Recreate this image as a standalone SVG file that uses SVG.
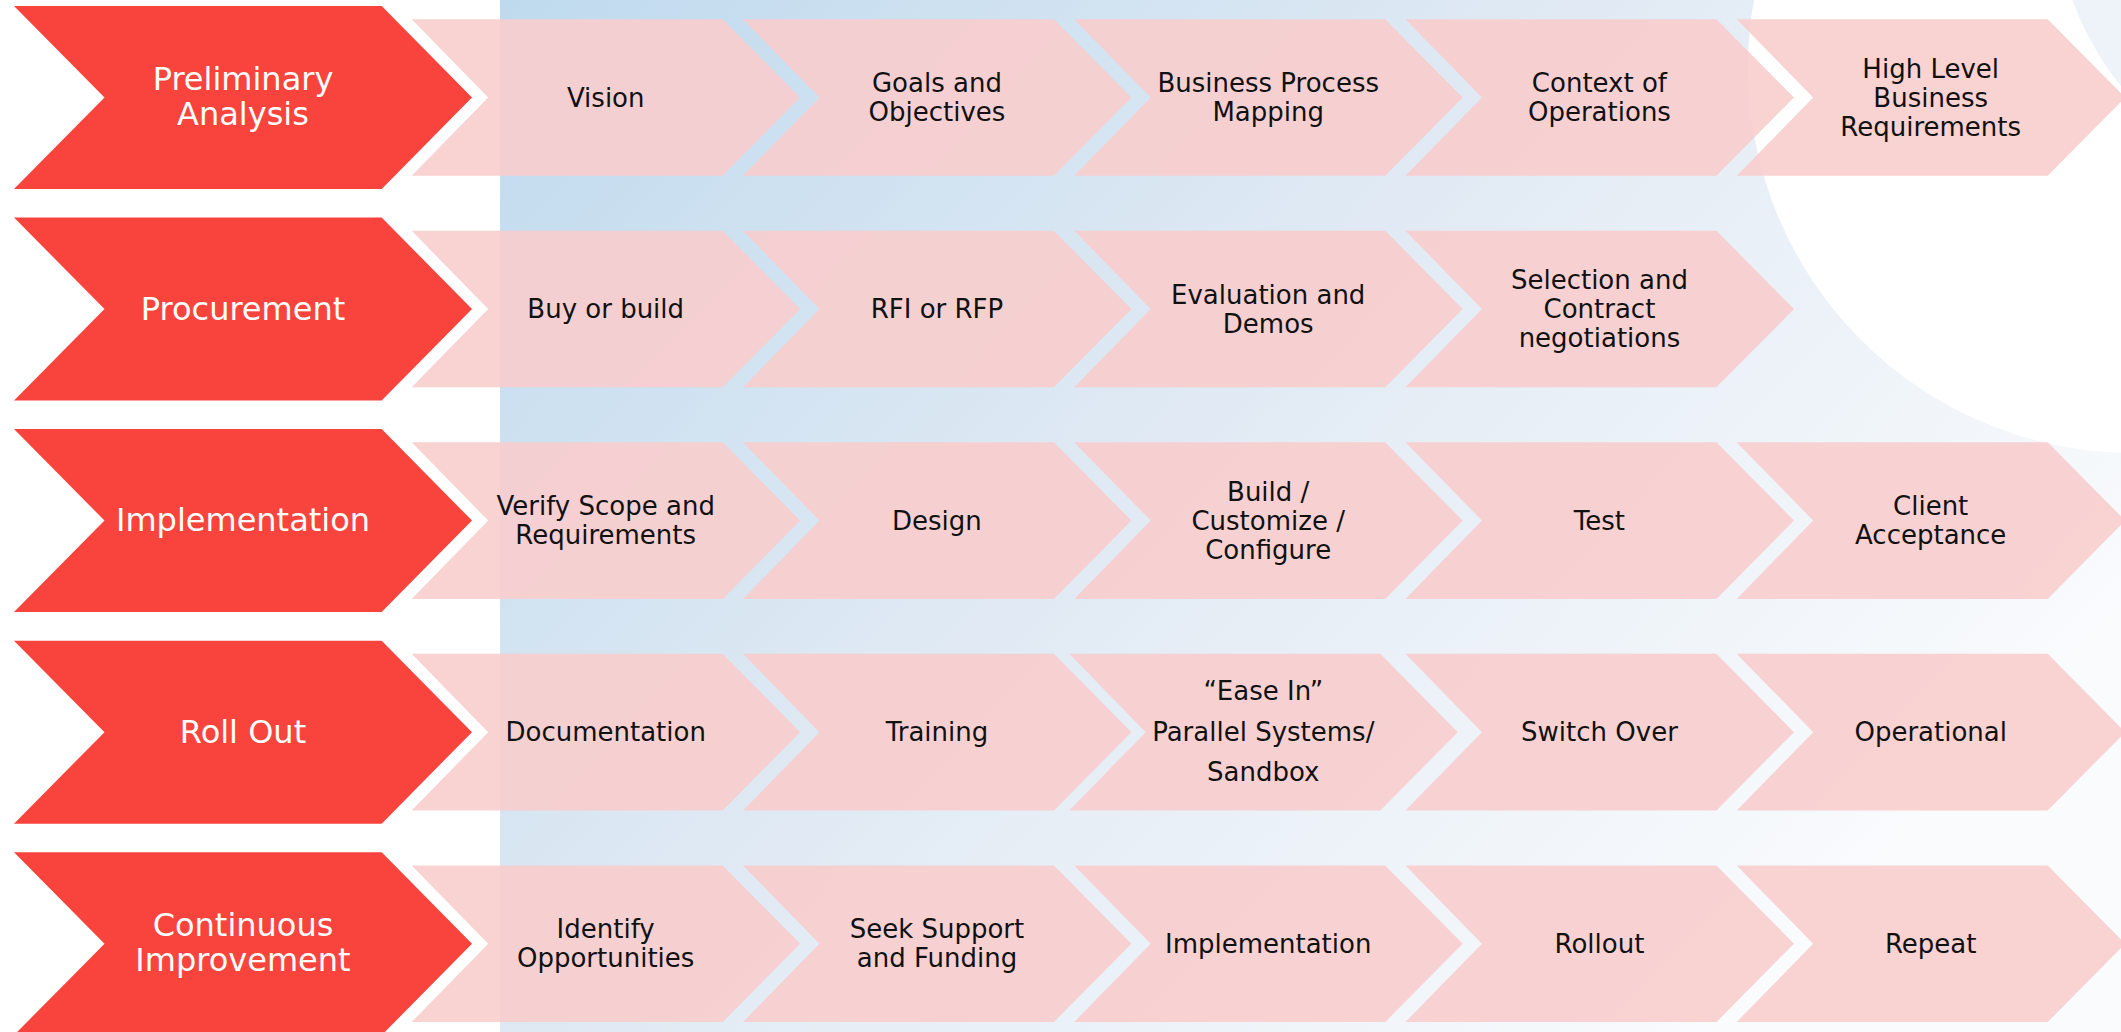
<svg xmlns="http://www.w3.org/2000/svg" xmlns:xlink="http://www.w3.org/1999/xlink" width="2121" height="1032" viewBox="0 0 2121 1032">
<style>
.pk{fill:#f8cdcd;fill-opacity:0.9}
.rd{fill:#f8443d}
.t{font-family:"DejaVu Sans","Liberation Sans",sans-serif;font-size:26px;fill:#111111;text-anchor:middle}
.w{font-family:"DejaVu Sans","Liberation Sans",sans-serif;font-size:32px;fill:#ffffff;text-anchor:middle}
</style>
<defs>
<linearGradient id="bg" gradientUnits="userSpaceOnUse" x1="500" y1="0" x2="1650" y2="1100">
<stop offset="0" stop-color="#bfdaee"/>
<stop offset="0.5" stop-color="#e1eaf4"/>
<stop offset="1" stop-color="#f9fbfd"/>
</linearGradient>
<path id="pch" d="M0,-78.3 H311 L388.5,0 L311,78.3 H0 L76.5,0 Z"/>
<path id="rch" d="M14,-91.5 H381.7 L472,0 L381.7,91.5 H14 L104.5,0 Z"/>
</defs>
<rect width="2121" height="1032" fill="#ffffff"/>
<g id="background">
<rect x="500" y="0" width="1621" height="1032" fill="url(#bg)"/>
<circle cx="2134" cy="67" r="386" fill="#ffffff"/>
<circle cx="2350" cy="-100" r="295" fill="#eef3f9"/>
</g>
<g id="connectors"></g>

<g id="row1">
<g id="phase-preliminary"><use xlink:href="#rch" class="rd" x="0" y="97.5"/><text class="w" x="243" y="90">Preliminary</text><text class="w" x="243" y="124.5">Analysis</text></g>
<g id="r1-vision"><use xlink:href="#pch" class="pk" x="411.7" y="97.5"/><text class="t" x="605.7" y="106.5">Vision</text></g>
<g id="r1-goals"><use xlink:href="#pch" class="pk" x="742.95" y="97.5"/><text class="t" x="936.95" y="92">Goals and</text><text class="t" x="936.95" y="121">Objectives</text></g>
<g id="r1-bpm"><use xlink:href="#pch" class="pk" x="1074.2" y="97.5"/><text class="t" x="1268.2" y="92">Business Process</text><text class="t" x="1268.2" y="121">Mapping</text></g>
<g id="r1-context"><use xlink:href="#pch" class="pk" x="1405.45" y="97.5"/><text class="t" x="1599.45" y="92">Context of</text><text class="t" x="1599.45" y="121">Operations</text></g>
<g id="r1-hlbr"><use xlink:href="#pch" class="pk" x="1736.7" y="97.5"/><text class="t" x="1930.7" y="77.5">High Level</text><text class="t" x="1930.7" y="106.5">Business</text><text class="t" x="1930.7" y="135.5">Requirements</text></g>
</g>

<g id="row2">
<g id="phase-procurement"><use xlink:href="#rch" class="rd" x="0" y="309.05"/><text class="w" x="243" y="319.5">Procurement</text></g>
<g id="r2-buy"><use xlink:href="#pch" class="pk" x="411.7" y="309.05"/><text class="t" x="605.7" y="318">Buy or build</text></g>
<g id="r2-rfi"><use xlink:href="#pch" class="pk" x="742.95" y="309.05"/><text class="t" x="936.95" y="318">RFI or RFP</text></g>
<g id="r2-eval"><use xlink:href="#pch" class="pk" x="1074.2" y="309.05"/><text class="t" x="1268.2" y="303.5">Evaluation and</text><text class="t" x="1268.2" y="332.5">Demos</text></g>
<g id="r2-select"><use xlink:href="#pch" class="pk" x="1405.45" y="309.05"/><text class="t" x="1599.45" y="289">Selection and</text><text class="t" x="1599.45" y="318">Contract</text><text class="t" x="1599.45" y="347">negotiations</text></g>
</g>

<g id="row3">
<g id="phase-implementation"><use xlink:href="#rch" class="rd" x="0" y="520.6"/><text class="w" x="243" y="531">Implementation</text></g>
<g id="r3-verify"><use xlink:href="#pch" class="pk" x="411.7" y="520.6"/><text class="t" x="605.7" y="515">Verify Scope and</text><text class="t" x="605.7" y="544">Requirements</text></g>
<g id="r3-design"><use xlink:href="#pch" class="pk" x="742.95" y="520.6"/><text class="t" x="936.95" y="529.6">Design</text></g>
<g id="r3-build"><use xlink:href="#pch" class="pk" x="1074.2" y="520.6"/><text class="t" x="1268.2" y="500.5">Build /</text><text class="t" x="1268.2" y="529.6">Customize /</text><text class="t" x="1268.2" y="558.5">Configure</text></g>
<g id="r3-test"><use xlink:href="#pch" class="pk" x="1405.45" y="520.6"/><text class="t" x="1599.45" y="529.6">Test</text></g>
<g id="r3-accept"><use xlink:href="#pch" class="pk" x="1736.7" y="520.6"/><text class="t" x="1930.7" y="515">Client</text><text class="t" x="1930.7" y="544">Acceptance</text></g>
</g>

<g id="row4">
<g id="phase-rollout"><use xlink:href="#rch" class="rd" x="0" y="732.15"/><text class="w" x="243" y="742.5">Roll Out</text></g>
<g id="r4-doc"><use xlink:href="#pch" class="pk" x="411.7" y="732.15"/><text class="t" x="605.7" y="741">Documentation</text></g>
<g id="r4-training"><use xlink:href="#pch" class="pk" x="742.95" y="732.15"/><text class="t" x="936.95" y="741">Training</text></g>
<g id="r4-easein"><use xlink:href="#pch" class="pk" x="1069.3" y="732.15"/><text class="t" x="1263.3" y="700">“Ease In”</text><text class="t" x="1263.3" y="741">Parallel Systems/</text><text class="t" x="1263.3" y="781">Sandbox</text></g>
<g id="r4-switch"><use xlink:href="#pch" class="pk" x="1405.45" y="732.15"/><text class="t" x="1599.45" y="741">Switch Over</text></g>
<g id="r4-oper"><use xlink:href="#pch" class="pk" x="1736.7" y="732.15"/><text class="t" x="1930.7" y="741">Operational</text></g>
</g>

<g id="row5">
<g id="phase-continuous"><use xlink:href="#rch" class="rd" x="0" y="943.7"/><text class="w" x="243" y="936">Continuous</text><text class="w" x="243" y="970.7">Improvement</text></g>
<g id="r5-identify"><use xlink:href="#pch" class="pk" x="411.7" y="943.7"/><text class="t" x="605.7" y="938">Identify</text><text class="t" x="605.7" y="967">Opportunities</text></g>
<g id="r5-seek"><use xlink:href="#pch" class="pk" x="742.95" y="943.7"/><text class="t" x="936.95" y="938">Seek Support</text><text class="t" x="936.95" y="967">and Funding</text></g>
<g id="r5-impl"><use xlink:href="#pch" class="pk" x="1074.2" y="943.7"/><text class="t" x="1268.2" y="952.7">Implementation</text></g>
<g id="r5-rollout"><use xlink:href="#pch" class="pk" x="1405.45" y="943.7"/><text class="t" x="1599.45" y="952.7">Rollout</text></g>
<g id="r5-repeat"><use xlink:href="#pch" class="pk" x="1736.7" y="943.7"/><text class="t" x="1930.7" y="952.7">Repeat</text></g>
</g>
</svg>
